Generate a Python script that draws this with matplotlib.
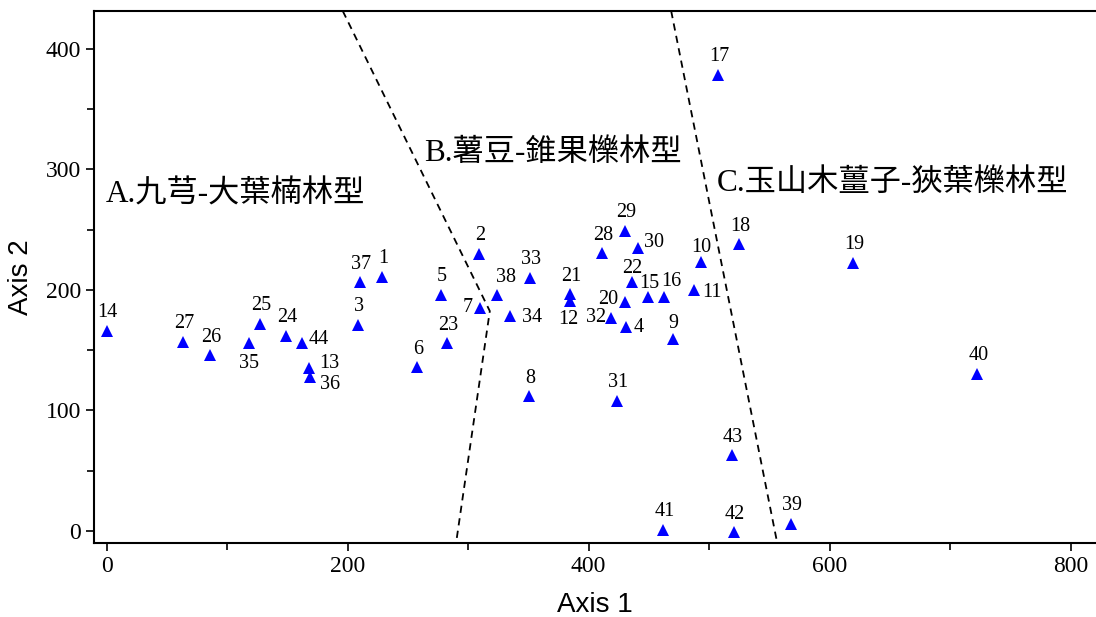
import matplotlib.pyplot as plt

# Puntos de las parcelas (Axis 1, Axis 2)
plot_ids = ['14', '27', '26', '35', '25', '24', '44', '13', '36', '3', '37', '1',
            '2', '5', '7', '38', '34', '33', '23', '6', '8', '21', '12', '28',
            '29', '30', '22', '15', '16', '20', '32', '4', '9', '31', '10', '11',
            '17', '18', '19', '40', '43', '41', '42', '39']
axis1 = [0, 63.5, 86, 118, 127.5, 149, 162, 168, 169, 208.5, 210.5, 228.5,
         309, 277.5, 310, 324, 335, 351.5, 282.5, 257.5, 350.5, 384.5, 384.5, 411,
         430, 441, 436, 449.5, 462.5, 430, 418.5, 431, 470, 423.5, 493.5, 487.5,
         507.5, 525, 619.5, 722.5, 519, 462, 520.5, 568]
axis2 = [166, 157, 146, 156, 172, 162, 156, 135, 128, 171, 206.5, 211,
         230, 196, 185, 196, 178.5, 210, 156, 136, 112, 196.5, 191, 230.5,
         249, 235, 206.5, 194, 194, 190, 177, 169, 159, 108, 223, 200,
         378.5, 238, 222.5, 130.5, 63, 1, -1, 6]

# Lineas de division entre tipos de bosque
div1_x = [196, 318, 290]
div1_y = [431.5, 182.5, -10]
div2_x = [468.5, 556.5]
div2_y = [431.5, -10]

group_names = ['A.九芎-大葉楠林型', 'B.薯豆-錐果櫟林型', 'C.玉山木薑子-狹葉櫟林型']
group_x = [-1, 263.5, 506]
group_y = [278.5, 313.5, 288]

# Desplazamiento de etiquetas (pixeles); por defecto encima
label_offset = {
    '35': (0, -20), '12': (-2, -19), '44': (17, 4), '13': (20, 5), '36': (20, -8),
    '7': (-12, 1), '38': (9, 17), '34': (22, -2), '30': (16, 5), '20': (-17, 3),
    '32': (-15, 0), '4': (13, 0), '11': (18, -3), '16': (7, 16), '22': (0, 14),
    '15': (1, 14), '10': (0, 15), '9': (0, 16),
}

serif = ['Liberation Serif', 'Noto Sans CJK TC']
plt.rcParams['font.family'] = serif

fig = plt.figure(figsize=(10.96, 6.17), dpi=100)
ax = fig.add_axes([0.0858, 0.1199, 0.9142, 0.8622])

ax.plot(axis1, axis2, linestyle='none', marker='^', ms=8.5, color='blue',
        markeredgewidth=0)

for name, x, y in zip(plot_ids, axis1, axis2):
    dx, dy = label_offset.get(name, (1, 18))
    ax.annotate(name, (x, y), xytext=(dx, dy), textcoords='offset pixels',
                ha='center', va='center', fontsize=14.5, family=serif)

ax.plot(div1_x, div1_y, color='black', linestyle=(0, (4, 3)), linewidth=1.3)
ax.plot(div2_x, div2_y, color='black', linestyle=(0, (4, 3)), linewidth=1.3)

for name, x, y in zip(group_names, group_x, group_y):
    ax.text(x, y, name, fontsize=22.5, family=serif, ha='left', va='center')

ax.set_xlim(-10.4, 821)
ax.set_ylim(-10, 431.5)
ax.set_xticks([0, 200, 400, 600, 800])
ax.set_xticks([100, 300, 500, 700], minor=True)
ax.set_yticks([0, 100, 200, 300, 400])
ax.set_yticks([50, 150, 250, 350], minor=True)
ax.tick_params(which='both', direction='out', length=6, width=1.2, labelsize=17)
ax.tick_params(which='minor', length=5)
for lab in ax.get_xticklabels() + ax.get_yticklabels():
    lab.set_family(serif)

ax.spines['right'].set_visible(False)
for s in ['left', 'top', 'bottom']:
    ax.spines[s].set_linewidth(1.5)

ax.set_xlabel('Axis 1', family='Liberation Sans', fontsize=20, labelpad=11)
ax.set_ylabel('Axis 2', family='Liberation Sans', fontsize=20, labelpad=8)

fig.savefig('out.png', dpi=100)
